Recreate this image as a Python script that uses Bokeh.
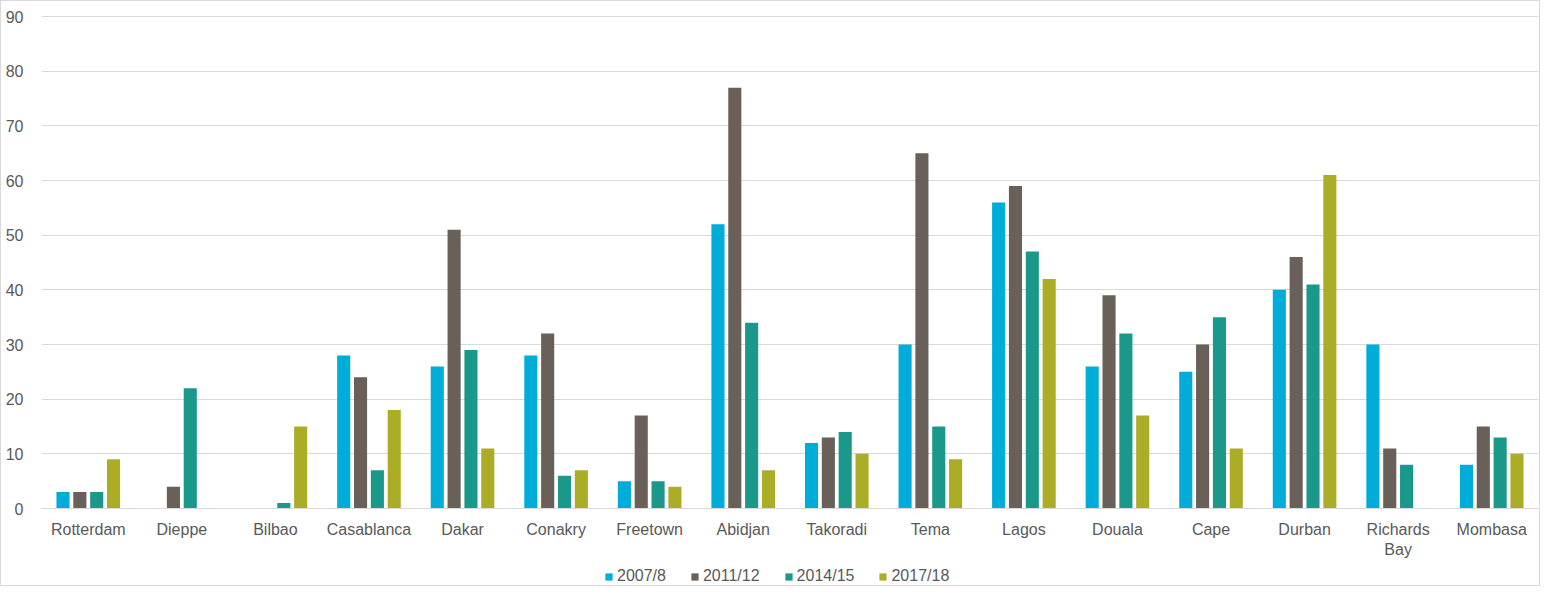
from bokeh.plotting import figure
from bokeh.models import ColumnDataSource, Legend, LegendItem, FactorRange, FixedTicker, Range1d
from bokeh.layouts import column
from bokeh.transform import dodge
from bokeh.embed import file_html
from bokeh.resources import INLINE

cities = ["Rotterdam", "Dieppe", "Bilbao", "Casablanca", "Dakar", "Conakry", "Freetown",
          "Abidjan", "Takoradi", "Tema", "Lagos", "Douala", "Cape", "Durban",
          "Richards\nBay", "Mombasa"]
series_names = ["2007/8", "2011/12", "2014/15", "2017/18"]
v2007 = [3, 0, 0, 28, 26, 28, 5, 52, 12, 30, 56, 26, 25, 40, 30, 8]
v2011 = [3, 4, 0, 24, 51, 32, 17, 77, 13, 65, 59, 39, 30, 46, 11, 15]
v2014 = [3, 22, 1, 7, 29, 6, 5, 34, 14, 15, 47, 32, 35, 41, 8, 13]
v2017 = [9, 0, 15, 18, 11, 7, 4, 7, 10, 9, 42, 17, 11, 61, 0, 10]
y_ticks = [0, 10, 20, 30, 40, 50, 60, 70, 80, 90]
colors = ["#00ADD8", "#686059", "#1A998B", "#ABAD27"]

src = ColumnDataSource(dict(city=cities, a=v2007, b=v2011, c=v2014, d=v2017))
xr = FactorRange(*cities, range_padding=0)

p = figure(x_range=xr, y_range=Range1d(0, 90.2),
           width=1538, height=559, output_backend="svg", toolbar_location=None,
           min_border_left=40, min_border_right=1, min_border_top=14, min_border_bottom=52)
p.outline_line_color = None
p.border_fill_color = "white"

offs = [-0.27, -0.09, 0.09, 0.27]
keys = ["a", "b", "c", "d"]
for key, off, col in zip(keys, offs, colors):
    p.vbar(x=dodge("city", off, range=xr), top=key, width=0.14, source=src,
           color=col, line_color=None)

p.xgrid.grid_line_color = None
p.ygrid.grid_line_color = "#D9D9D9"
p.yaxis.ticker = FixedTicker(ticks=y_ticks)
p.yaxis.axis_line_color = None
p.yaxis.major_tick_line_color = None
p.yaxis.minor_tick_line_color = None
p.xaxis.axis_line_color = "#D9D9D9"
p.xaxis.major_tick_line_color = None
p.xaxis.minor_tick_line_color = None
for ax in (p.xaxis, p.yaxis):
    ax.major_label_text_font = "Liberation Sans"
    ax.major_label_text_font_size = "16px"
    ax.major_label_text_color = "#595959"
p.yaxis.major_label_standoff = 12
p.xaxis.major_label_standoff = 6

# legend-only strip below the chart
lf = figure(x_range=xr, y_range=Range1d(1000, 1001), width=1538, height=25,
            output_backend="svg", toolbar_location=None,
            x_axis_location=None, y_axis_location=None,
            min_border_left=40, min_border_right=1, min_border_top=0, min_border_bottom=0)
lf.outline_line_color = None
lf.xgrid.grid_line_color = None
lf.ygrid.grid_line_color = None
lrs = []
for key, off, col in zip(keys, offs, colors):
    lrs.append(lf.vbar(x=dodge("city", off, range=xr), top=key, width=0.14, source=src,
                       color=col, line_color=None))

legend = Legend(items=[LegendItem(label=n, renderers=[r]) for n, r in zip(series_names, lrs)],
                orientation="horizontal", location=(563, 0),
                label_text_font="Liberation Sans", label_text_font_size="16px",
                label_text_color="#595959", glyph_width=9, glyph_height=9,
                label_standoff=4, spacing=24, border_line_color=None,
                background_fill_alpha=0, label_height=16, padding=4, margin=0)
lf.add_layout(legend, "center")

layout = column(p, lf, spacing=0, styles={"border": "1px solid #D9D9D9"})
open("out.html", "w").write(file_html(layout, INLINE))
